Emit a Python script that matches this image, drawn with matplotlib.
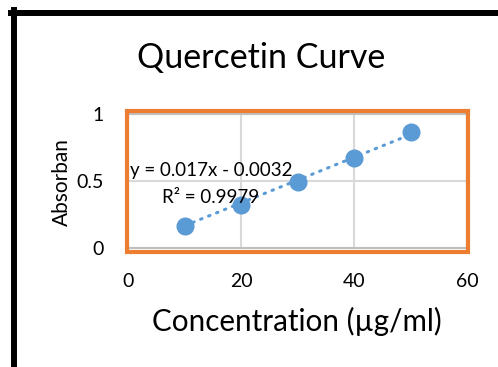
import numpy as np
import matplotlib.pyplot as plt
from matplotlib.patches import Rectangle
from matplotlib.lines import Line2D

plt.rcParams['font.family'] = ['Lato', 'DejaVu Sans']

conc = [10, 20, 30, 40, 50]
absorb = [0.166, 0.318, 0.49, 0.669, 0.863]
slope, intercept = 0.017, -0.0032
xticks = [0, 20, 40, 60]
yticks = [0, 0.5, 1]

W, H = 498, 367
fig = plt.figure(figsize=(W / 100, H / 100), dpi=100)

def fx(px):
    return px / W

def fy(py):
    return 1 - py / H

ax = fig.add_axes([fx(128.3), fy(248), fx(467) - fx(128.3), fy(114) - fy(248)])
ax.set_xlim(0, 60)
ax.set_ylim(0, 1)
ax.set_xticks(xticks)
ax.set_yticks(yticks)
ax.set_xticklabels([str(t) for t in xticks])
ax.set_yticklabels(['0', '0.5', '1'])
ax.tick_params(length=0, labelsize=14, colors='black')
ax.tick_params(axis='x', pad=18)
ax.tick_params(axis='y', pad=18)
ax.grid(True, color='#d9d9d9', linewidth=1.5)
ax.set_axisbelow(True)
for s in ax.spines.values():
    s.set_color('#bfbfbf')
    s.set_linewidth(1.5)

# trendline
xt = np.array([conc[0], conc[-1]])
ax.plot(xt, slope * xt + intercept, color='#5b9bd5', linewidth=2.2,
        linestyle=(0, (0.5, 2.3)), dash_capstyle='round', zorder=2)
ax.plot(conc, absorb, 'o', color='#5b9bd5', markersize=12, zorder=3, clip_on=False)

ax.text(0.3, 0.575, 'y = 0.017x - 0.0032', fontsize=13.5, ha='left', va='center', zorder=4)
ax.text(14.6, 0.38, 'R² = 0.9979', fontsize=13.5, ha='center', va='center', zorder=4)

fig.text(fx(62), fy(182), 'Absorban', fontsize=15, rotation=90, ha='center', va='center')
fig.text(fx(297), fy(321), 'Concentration (µg/ml)', fontsize=21.3, ha='center', va='center')
fig.text(fx(261), fy(58), 'Quercetin Curve', fontsize=24.5, ha='center', va='center')

# orange plot-area frame
fig.add_artist(Rectangle((fx(127), fy(252)), fx(468) - fx(127), fy(111) - fy(252),
                         transform=fig.transFigure, fill=False,
                         edgecolor='#ed7d31', linewidth=3))

# black outer border (cropped)
fig.add_artist(Line2D([fx(14), fx(14)], [0, fy(10)], color='black', linewidth=4.3,
                      transform=fig.transFigure))
fig.add_artist(Line2D([fx(11), 1], [fy(13), fy(13)], color='black', linewidth=4.3,
                      transform=fig.transFigure))

fig.savefig('out.png', dpi=100)
